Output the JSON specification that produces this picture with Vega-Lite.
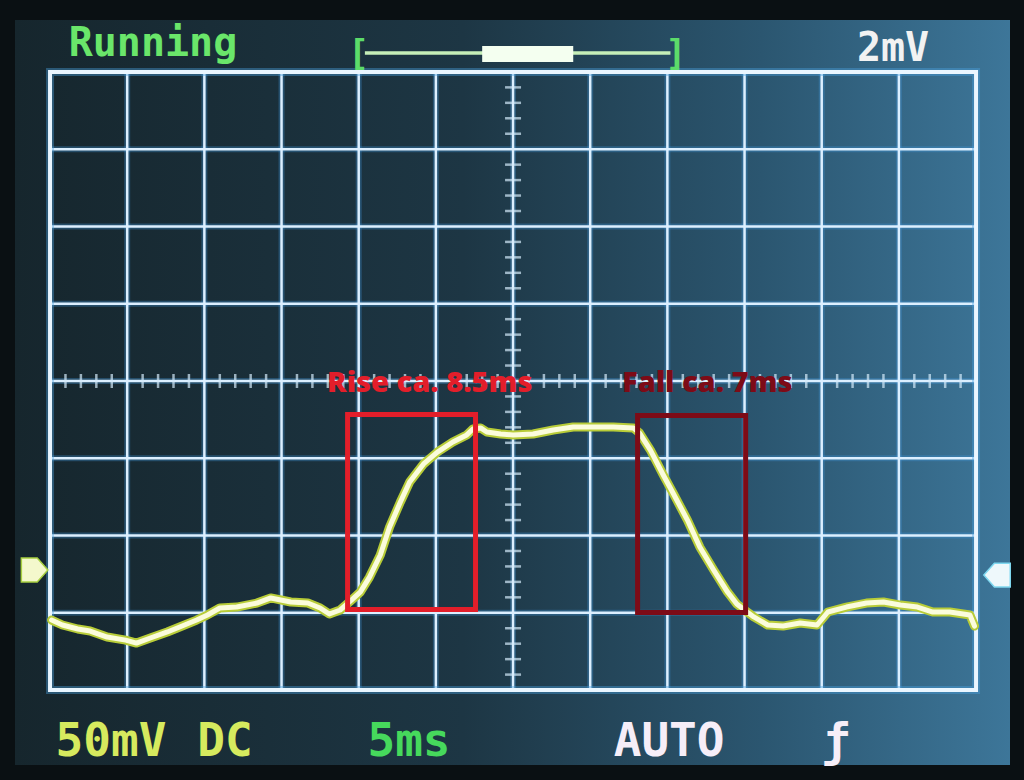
{
  "$schema": "https://vega.github.io/schema/vega-lite/v6.json",
  "width": 995,
  "height": 745,
  "autosize": {"type": "none"},
  "padding": {"left": 15, "top": 20, "right": 14, "bottom": 15},
  "background": "#0a1013",
  "config": {
    "view": {
      "stroke": null,
      "fill": {
        "gradient": "linear",
        "x1": 0, "y1": 0, "x2": 1, "y2": 0,
        "stops": [
          {"offset": 0, "color": "#16262d"},
          {"offset": 0.45, "color": "#1d3644"},
          {"offset": 0.75, "color": "#2b5670"},
          {"offset": 1, "color": "#3d7699"}
        ]
      }
    }
  },
  "datasets": {
    "trace": [
      {"t": 0.1, "v": -154.7}, {"t": 0.8, "v": -157.9}, {"t": 1.8, "v": -160.5}, {"t": 2.6, "v": -161.8},
      {"t": 3.7, "v": -165.7}, {"t": 4.9, "v": -167.7}, {"t": 5.6, "v": -169.6}, {"t": 6.5, "v": -166.3},
      {"t": 7.6, "v": -162.4}, {"t": 8.4, "v": -159.2}, {"t": 9.5, "v": -154.7}, {"t": 10.2, "v": -151.4},
      {"t": 11.0, "v": -146.9}, {"t": 12.1, "v": -146.3}, {"t": 13.4, "v": -143.7}, {"t": 14.3, "v": -140.4},
      {"t": 15.6, "v": -143.0}, {"t": 16.7, "v": -143.7}, {"t": 17.5, "v": -146.9}, {"t": 18.1, "v": -150.8},
      {"t": 18.8, "v": -148.2}, {"t": 19.4, "v": -143.0}, {"t": 20.1, "v": -136.6}, {"t": 20.7, "v": -126.9},
      {"t": 21.4, "v": -112.6}, {"t": 22.0, "v": -94.5}, {"t": 22.7, "v": -78.3}, {"t": 23.3, "v": -65.4},
      {"t": 24.2, "v": -53.7}, {"t": 25.1, "v": -46.0}, {"t": 26.1, "v": -39.5}, {"t": 27.0, "v": -34.9},
      {"t": 27.4, "v": -31.1}, {"t": 27.9, "v": -30.4}, {"t": 28.3, "v": -33.0}, {"t": 29.2, "v": -34.3},
      {"t": 30.0, "v": -34.9}, {"t": 31.3, "v": -34.3}, {"t": 32.6, "v": -31.7}, {"t": 33.9, "v": -29.8},
      {"t": 35.2, "v": -29.8}, {"t": 36.5, "v": -29.8}, {"t": 37.8, "v": -30.4}, {"t": 38.2, "v": -33.7},
      {"t": 38.9, "v": -44.7}, {"t": 39.7, "v": -60.2}, {"t": 40.4, "v": -73.1}, {"t": 41.3, "v": -90.0},
      {"t": 42.1, "v": -107.4}, {"t": 43.0, "v": -122.3}, {"t": 43.9, "v": -136.6}, {"t": 44.5, "v": -144.3},
      {"t": 45.0, "v": -148.2}, {"t": 45.6, "v": -152.7}, {"t": 46.5, "v": -157.9}, {"t": 47.5, "v": -158.6},
      {"t": 48.6, "v": -156.6}, {"t": 49.7, "v": -157.9}, {"t": 50.4, "v": -149.5}, {"t": 51.6, "v": -146.3},
      {"t": 52.9, "v": -143.7}, {"t": 54.0, "v": -143.0}, {"t": 55.1, "v": -145.0}, {"t": 56.2, "v": -146.3},
      {"t": 57.2, "v": -149.5}, {"t": 58.3, "v": -149.5}, {"t": 59.6, "v": -151.4}, {"t": 59.9, "v": -158.6}
    ],
    "vgrid": [
      {"t": 5, "v": -200, "v2": 200}, {"t": 10, "v": -200, "v2": 200}, {"t": 15, "v": -200, "v2": 200},
      {"t": 20, "v": -200, "v2": 200}, {"t": 25, "v": -200, "v2": 200}, {"t": 30, "v": -200, "v2": 200},
      {"t": 35, "v": -200, "v2": 200}, {"t": 40, "v": -200, "v2": 200}, {"t": 45, "v": -200, "v2": 200},
      {"t": 50, "v": -200, "v2": 200}, {"t": 55, "v": -200, "v2": 200}
    ],
    "hgrid": [
      {"t": 0, "t2": 60, "v": -150}, {"t": 0, "t2": 60, "v": -100}, {"t": 0, "t2": 60, "v": -50},
      {"t": 0, "t2": 60, "v": 0}, {"t": 0, "t2": 60, "v": 50}, {"t": 0, "t2": 60, "v": 100},
      {"t": 0, "t2": 60, "v": 150}
    ],
    "frame": [{"t": 0, "t2": 60, "v": -200, "v2": 200}],
    "hticks": [
      {"t": 1, "v": 0}, {"t": 2, "v": 0}, {"t": 3, "v": 0}, {"t": 4, "v": 0},
      {"t": 6, "v": 0}, {"t": 7, "v": 0}, {"t": 8, "v": 0}, {"t": 9, "v": 0},
      {"t": 11, "v": 0}, {"t": 12, "v": 0}, {"t": 13, "v": 0}, {"t": 14, "v": 0},
      {"t": 16, "v": 0}, {"t": 17, "v": 0}, {"t": 18, "v": 0}, {"t": 19, "v": 0},
      {"t": 21, "v": 0}, {"t": 22, "v": 0}, {"t": 23, "v": 0}, {"t": 24, "v": 0},
      {"t": 26, "v": 0}, {"t": 27, "v": 0}, {"t": 28, "v": 0}, {"t": 29, "v": 0},
      {"t": 31, "v": 0}, {"t": 32, "v": 0}, {"t": 33, "v": 0}, {"t": 34, "v": 0},
      {"t": 36, "v": 0}, {"t": 37, "v": 0}, {"t": 38, "v": 0}, {"t": 39, "v": 0},
      {"t": 41, "v": 0}, {"t": 42, "v": 0}, {"t": 43, "v": 0}, {"t": 44, "v": 0},
      {"t": 46, "v": 0}, {"t": 47, "v": 0}, {"t": 48, "v": 0}, {"t": 49, "v": 0},
      {"t": 51, "v": 0}, {"t": 52, "v": 0}, {"t": 53, "v": 0}, {"t": 54, "v": 0},
      {"t": 56, "v": 0}, {"t": 57, "v": 0}, {"t": 58, "v": 0}, {"t": 59, "v": 0}
    ],
    "vticks": [
      {"t": 30, "v": -190}, {"t": 30, "v": -180}, {"t": 30, "v": -170}, {"t": 30, "v": -160},
      {"t": 30, "v": -140}, {"t": 30, "v": -130}, {"t": 30, "v": -120}, {"t": 30, "v": -110},
      {"t": 30, "v": -90}, {"t": 30, "v": -80}, {"t": 30, "v": -70}, {"t": 30, "v": -60},
      {"t": 30, "v": -40}, {"t": 30, "v": -30}, {"t": 30, "v": -20}, {"t": 30, "v": -10},
      {"t": 30, "v": 10}, {"t": 30, "v": 20}, {"t": 30, "v": 30}, {"t": 30, "v": 40},
      {"t": 30, "v": 60}, {"t": 30, "v": 70}, {"t": 30, "v": 80}, {"t": 30, "v": 90},
      {"t": 30, "v": 110}, {"t": 30, "v": 120}, {"t": 30, "v": 130}, {"t": 30, "v": 140},
      {"t": 30, "v": 160}, {"t": 30, "v": 170}, {"t": 30, "v": 180}, {"t": 30, "v": 190}
    ],
    "boxes": [
      {"name": "Rise", "t": 19.28, "t2": 27.57, "v": -21.7, "v2": -147.9},
      {"name": "Fall", "t": 38.07, "t2": 45.07, "v": -22.3, "v2": -149.8}
    ],
    "labels": [
      {"name": "Rise", "label": "Rise ca. 8.5ms", "t": 17.95, "v": -7.1},
      {"name": "Fall", "label": "Fall ca. 7ms", "t": 37.06, "v": -7.1}
    ],
    "hudTop": [
      {"name": "Running", "text": "Running", "t": 6.67, "v": 210.3},
      {"name": "2mV", "text": "2mV", "t": 54.62, "v": 207.1}
    ],
    "hudBottom": [
      {"name": "Volts", "text": "50mV", "t": 3.95, "v": -242.7},
      {"name": "Volts", "text": "DC", "t": 11.34, "v": -242.7},
      {"name": "Time", "text": "5ms", "t": 23.26, "v": -242.7},
      {"name": "Trigger", "text": "AUTO", "t": 40.11, "v": -242.7},
      {"name": "Trigger", "text": "ƒ", "t": 50.93, "v": -242.7}
    ],
    "brackets": [
      {"name": "Bracket", "text": "[", "t": 20.0, "v": 211.5},
      {"name": "Bracket", "text": "]", "t": 40.55, "v": 211.5}
    ],
    "sliderLine": [{"t": 20.4, "t2": 40.2, "v": 212.3}],
    "sliderBlock": [{"t": 28.0, "t2": 33.9, "v": 216.8, "v2": 206.5}],
    "markers": [
      {"ch": "CH1", "t": -1.0, "v": -122.3},
      {"ch": "TRIG", "t": 61.36, "v": -125.6}
    ]
  },
  "encoding": {
    "x": {"field": "t", "type": "quantitative", "scale": {"domain": [-2.27, 62.2], "nice": false, "zero": false}, "axis": null},
    "y": {"field": "v", "type": "quantitative", "scale": {"domain": [-248.5, 233.6], "nice": false, "zero": false}, "axis": null}
  },
  "layer": [
    {
      "data": {"name": "vgrid"},
      "mark": {"type": "rule", "color": "#3f92d4", "strokeWidth": 6, "opacity": 0.35},
      "encoding": {"y2": {"field": "v2"}}
    },
    {
      "data": {"name": "hgrid"},
      "mark": {"type": "rule", "color": "#3f92d4", "strokeWidth": 6, "opacity": 0.35},
      "encoding": {"x2": {"field": "t2"}}
    },
    {
      "data": {"name": "vgrid"},
      "mark": {"type": "rule", "color": "#dcefff", "strokeWidth": 2.5},
      "encoding": {"y2": {"field": "v2"}}
    },
    {
      "data": {"name": "hgrid"},
      "mark": {"type": "rule", "color": "#dcefff", "strokeWidth": 2.5},
      "encoding": {"x2": {"field": "t2"}}
    },
    {
      "data": {"name": "hticks"},
      "mark": {"type": "tick", "orient": "vertical", "color": "#d4ebfb", "size": 14, "thickness": 2.5}
    },
    {
      "data": {"name": "vticks"},
      "mark": {"type": "tick", "orient": "horizontal", "color": "#d4ebfb", "size": 16, "thickness": 2.5}
    },
    {
      "data": {"name": "frame"},
      "mark": {"type": "rect", "filled": false, "stroke": "#4aa2e0", "strokeWidth": 8, "strokeOpacity": 0.4},
      "encoding": {"x2": {"field": "t2"}, "y2": {"field": "v2"}}
    },
    {
      "data": {"name": "frame"},
      "mark": {"type": "rect", "filled": false, "stroke": "#eaf6ff", "strokeWidth": 4},
      "encoding": {"x2": {"field": "t2"}, "y2": {"field": "v2"}}
    },
    {
      "data": {"name": "trace"},
      "mark": {"type": "line", "color": "#b8cc38", "strokeWidth": 9, "strokeJoin": "round", "strokeCap": "round"}
    },
    {
      "data": {"name": "trace"},
      "mark": {"type": "line", "color": "#fbfcdc", "strokeWidth": 5, "strokeJoin": "round", "strokeCap": "round"}
    },
    {
      "data": {"name": "boxes"},
      "mark": {"type": "rect", "filled": false, "strokeWidth": 5},
      "encoding": {
        "x2": {"field": "t2"},
        "y2": {"field": "v2"},
        "color": {"field": "name", "type": "nominal", "legend": null,
          "scale": {"domain": ["Rise", "Fall", "Running", "2mV", "Volts", "Time", "Trigger", "Bracket"],
                    "range": ["#e31e2a", "#7d0b17", "#6ae66a", "#f2f2f2", "#d6ea5e", "#46d95c", "#f6eef8", "#5cdc6a"]}}
      }
    },
    {
      "data": {"name": "labels"},
      "mark": {"type": "text", "font": "Open Sans", "fontWeight": 800, "fontSize": 29, "align": "left", "baseline": "alphabetic"},
      "encoding": {
        "text": {"field": "label"},
        "color": {"field": "name", "type": "nominal", "legend": null,
          "scale": {"domain": ["Rise", "Fall", "Running", "2mV", "Volts", "Time", "Trigger", "Bracket"],
                    "range": ["#e31e2a", "#7d0b17", "#6ae66a", "#f2f2f2", "#d6ea5e", "#46d95c", "#f6eef8", "#5cdc6a"]}}
      }
    },
    {
      "data": {"name": "hudTop"},
      "mark": {"type": "text", "font": "DejaVu Sans Mono", "fontWeight": "bold", "fontSize": 40, "align": "center", "baseline": "alphabetic"},
      "encoding": {
        "text": {"field": "text"},
        "color": {"field": "name", "type": "nominal", "legend": null,
          "scale": {"domain": ["Rise", "Fall", "Running", "2mV", "Volts", "Time", "Trigger", "Bracket"],
                    "range": ["#e31e2a", "#7d0b17", "#6ae66a", "#f2f2f2", "#d6ea5e", "#46d95c", "#f6eef8", "#5cdc6a"]}}
      }
    },
    {
      "data": {"name": "hudBottom"},
      "mark": {"type": "text", "font": "DejaVu Sans Mono", "fontWeight": "bold", "fontSize": 46, "align": "center", "baseline": "alphabetic"},
      "encoding": {
        "text": {"field": "text"},
        "color": {"field": "name", "type": "nominal", "legend": null,
          "scale": {"domain": ["Rise", "Fall", "Running", "2mV", "Volts", "Time", "Trigger", "Bracket"],
                    "range": ["#e31e2a", "#7d0b17", "#6ae66a", "#f2f2f2", "#d6ea5e", "#46d95c", "#f6eef8", "#5cdc6a"]}}
      }
    },
    {
      "data": {"name": "sliderLine"},
      "mark": {"type": "rule", "color": "#c6efb8", "strokeWidth": 3.5},
      "encoding": {"x2": {"field": "t2"}}
    },
    {
      "data": {"name": "sliderBlock"},
      "mark": {"type": "rect", "color": "#f4fff0"},
      "encoding": {"x2": {"field": "t2"}, "y2": {"field": "v2"}}
    },
    {
      "data": {"name": "brackets"},
      "mark": {"type": "text", "font": "DejaVu Sans Mono", "fontWeight": "bold", "fontSize": 36, "align": "center", "baseline": "middle"},
      "encoding": {
        "text": {"field": "text"},
        "color": {"field": "name", "type": "nominal", "legend": null,
          "scale": {"domain": ["Rise", "Fall", "Running", "2mV", "Volts", "Time", "Trigger", "Bracket"],
                    "range": ["#e31e2a", "#7d0b17", "#6ae66a", "#f2f2f2", "#d6ea5e", "#46d95c", "#f6eef8", "#5cdc6a"]}}
      }
    },
    {
      "data": {"name": "markers"},
      "transform": [{"filter": "datum.ch === 'CH1'"}],
      "mark": {"type": "point", "filled": true, "shape": "M-1,-0.9L0.2,-0.9L1,0L0.2,0.9L-1,0.9Z", "size": 700, "fill": "#f4f8cc", "stroke": "#a8d040", "strokeWidth": 1.5, "opacity": 1}
    },
    {
      "data": {"name": "markers"},
      "transform": [{"filter": "datum.ch === 'TRIG'"}],
      "mark": {"type": "point", "filled": true, "shape": "M1,-0.9L-0.2,-0.9L-1,0L-0.2,0.9L1,0.9Z", "size": 700, "fill": "#eef8fb", "stroke": "#7fd8f0", "strokeWidth": 1.5, "opacity": 1}
    }
  ]
}
